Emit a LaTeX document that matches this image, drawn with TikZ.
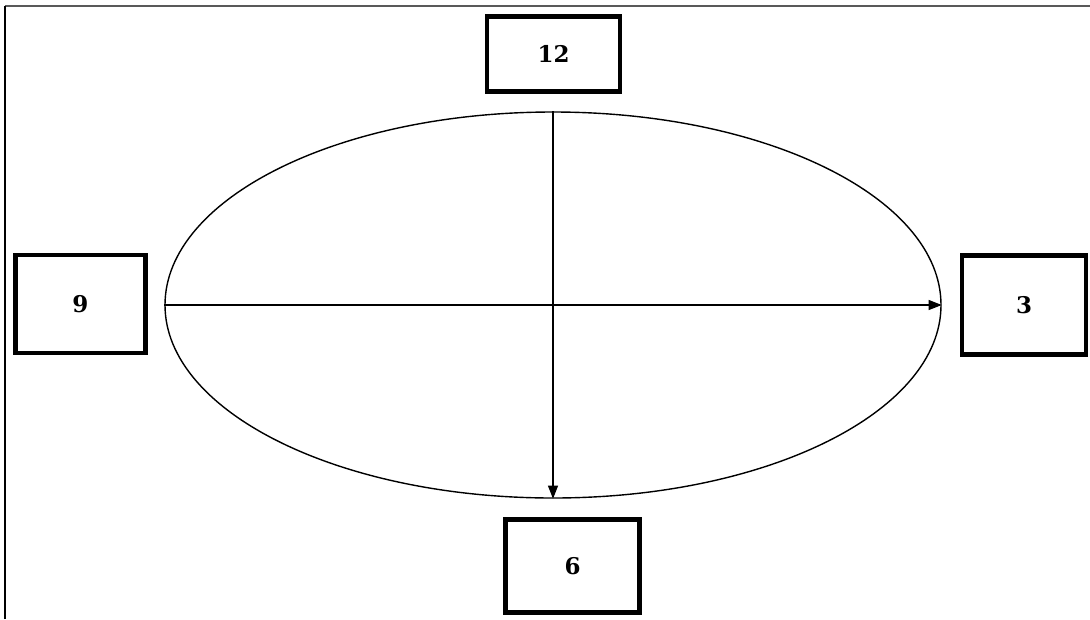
\documentclass[tikz,border=0pt]{standalone}
\usepackage{fontspec}
\setmainfont{DejaVu Serif}
\usetikzlibrary{shapes.geometric,arrows.meta}
\begin{document}
\begin{tikzpicture}[x=1pt,y=-1pt,
  numbox/.style={draw=black,line width=4.5pt,rectangle,inner sep=0pt,font=\fontsize{23}{26}\selectfont\bfseries},
  axis/.style={line width=1.1pt,-{Triangle[length=13pt,width=10pt]}}]
\useasboundingbox (0,0) rectangle (1090,619);
\coordinate (fl) at (5,619);
\coordinate (ftl) at (5,6);
\coordinate (ftr) at (1090,6);
\draw[line width=1.6pt,gray!70!black] (ftl) -- (ftr);
\draw[line width=1.6pt,black] (fl) -- (ftl);
\node[draw,ellipse,line width=1.4pt,minimum width=776pt,minimum height=386pt,inner sep=0pt] (ell) at (553,305) {};
\node[numbox,minimum width=133pt,minimum height=75pt] (b12) at (553.5,54) {12};
\node[numbox,minimum width=130pt,minimum height=98pt] (b9) at (80.5,304) {9};
\node[numbox,minimum width=124pt,minimum height=99pt] (b3) at (1024,305) {3};
\node[numbox,minimum width=134pt,minimum height=93pt] (b6) at (572.5,566) {6};
\draw[axis] (ell.west) -- (ell.east);
\draw[axis] (ell.north) -- (ell.south);
\end{tikzpicture}
\end{document}
